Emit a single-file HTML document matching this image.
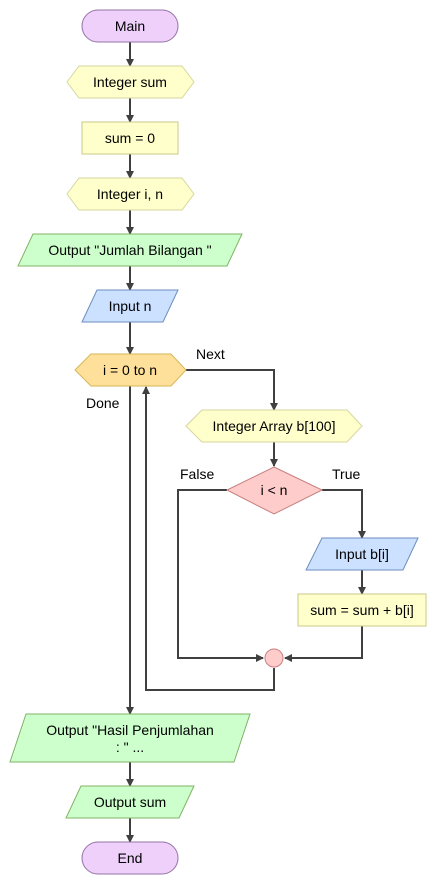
<!DOCTYPE html>
<html><head><meta charset="utf-8"><style>
html,body{margin:0;padding:0;background:#fff;width:437px;height:885px;overflow:hidden}
text{font-family:"Liberation Sans",Arial,sans-serif;font-size:14px;fill:#000}
</style></head><body>
<svg width="437" height="885" viewBox="0 0 437 885" xmlns="http://www.w3.org/2000/svg">
<defs><marker id="a" markerWidth="8" markerHeight="8" refX="7" refY="4" orient="auto" markerUnits="userSpaceOnUse"><path d="M0,0 L8,4 L0,8 Z" fill="#404040"/></marker></defs>
<g stroke="#404040" stroke-width="2" fill="none" marker-end="url(#a)">
<path d="M130,42V66"/><path d="M130,98V122"/><path d="M130,154V178"/><path d="M130,210V234"/>
<path d="M130,266V290"/><path d="M130,322V354"/>
<path d="M186,370H274V410"/><path d="M274,442V466"/>
<path d="M322,490H362V538"/><path d="M362,570V594"/>
<path d="M362,626V658H285"/><path d="M227,490H178V658H263"/>
<path d="M274,668V690H146V387"/>
<path d="M130,386V714"/><path d="M130,762V786"/><path d="M130,818V842"/>
</g>
<rect x="82" y="10" width="96" height="32" rx="16" fill="#eed0fa" stroke="#9673a6"/>
<text x="130" y="31" text-anchor="middle">Main</text>
<path d="M67,82 L79,66 H182 L194,82 L182,98 H79 Z" fill="#ffffcc" stroke="#d6d69e"/>
<text x="130" y="87" text-anchor="middle">Integer sum</text>
<rect x="82" y="122" width="96" height="32" fill="#ffffcc" stroke="#c8c88a"/>
<text x="130" y="143" text-anchor="middle">sum = 0</text>
<path d="M67,194 L79,178 H182 L194,194 L182,210 H79 Z" fill="#ffffcc" stroke="#d6d69e"/>
<text x="130" y="199" text-anchor="middle">Integer i, n</text>
<path d="M33,234 H242 L227,266 H18 Z" fill="#ccffcc" stroke="#82b366"/>
<text x="130" y="255" text-anchor="middle">Output "Jumlah Bilangan "</text>
<path d="M97,290 H178 L163,322 H82 Z" fill="#cce0ff" stroke="#6c8ebf"/>
<text x="130" y="311" text-anchor="middle">Input n</text>
<path d="M75,370 L91,354 H171 L186,370 L171,386 H91 Z" fill="#ffe09a" stroke="#d6b656"/>
<text x="130" y="375" text-anchor="middle">i = 0 to n</text>
<text x="196" y="359">Next</text>
<text x="86" y="408">Done</text>
<path d="M186,426 L202,410 H347 L362,426 L347,442 H202 Z" fill="#ffffcc" stroke="#d6d69e"/>
<text x="274" y="431" text-anchor="middle">Integer Array b[100]</text>
<path d="M274,467 L322,490 L274,514 L227,490 Z" fill="#ffcccc" stroke="#c87f7f"/>
<text x="274" y="495" text-anchor="middle">i &lt; n</text>
<text x="180" y="479">False</text>
<text x="332" y="479">True</text>
<path d="M322,538 H418 L403,570 H306 Z" fill="#cce0ff" stroke="#6c8ebf"/>
<text x="362" y="559" text-anchor="middle">Input b[i]</text>
<rect x="298" y="594" width="128" height="32" fill="#ffffcc" stroke="#c8c88a"/>
<text x="362" y="615" text-anchor="middle">sum = sum + b[i]</text>
<circle cx="274" cy="658" r="9" fill="#ffcccc" stroke="#c87f7f"/>
<path d="M26,714 H250 L234,762 H10 Z" fill="#ccffcc" stroke="#82b366"/>
<text x="130" y="735" text-anchor="middle">Output "Hasil Penjumlahan</text>
<text x="130" y="752" text-anchor="middle">: " ...</text>
<path d="M81,786 H194 L179,818 H66 Z" fill="#ccffcc" stroke="#82b366"/>
<text x="130" y="807" text-anchor="middle">Output sum</text>
<rect x="82" y="842" width="96" height="32" rx="16" fill="#eed0fa" stroke="#9673a6"/>
<text x="130" y="863" text-anchor="middle">End</text>
</svg>
</body></html>
